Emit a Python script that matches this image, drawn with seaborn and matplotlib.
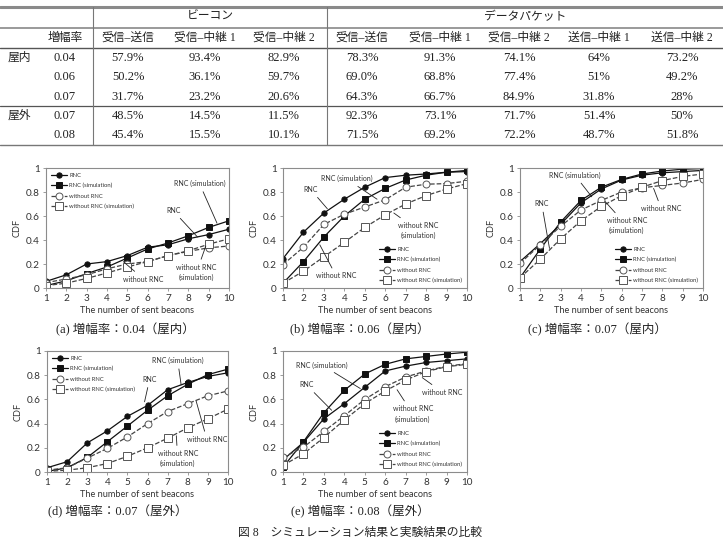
import seaborn as sns
import matplotlib.pyplot as plt
from matplotlib.lines import Line2D

# ---- table data ----
group_headers = ["ビーコン", "データパケット"]
col_headers = ["増幅率", "受信–送信", "受信–中継 1", "受信–中継 2",
               "受信–送信", "受信–中継 1", "受信–中継 2", "送信–中継 1", "送信–中継 2"]
row_places = ["屋内", "", "", "屋外", ""]
row_rates = ["0.04", "0.06", "0.07", "0.07", "0.08"]
beacon_vals = [
    ["57.9%", "93.4%", "82.9%"],
    ["50.2%", "36.1%", "59.7%"],
    ["31.7%", "23.2%", "20.6%"],
    ["48.5%", "14.5%", "11.5%"],
    ["45.4%", "15.5%", "10.1%"],
]
packet_vals = [
    ["78.3%", "91.3%", "74.1%", "64%", "73.2%"],
    ["69.0%", "68.8%", "77.4%", "51%", "49.2%"],
    ["64.3%", "66.7%", "84.9%", "31.8%", "28%"],
    ["92.3%", "73.1%", "71.7%", "51.4%", "50%"],
    ["71.5%", "69.2%", "72.2%", "48.7%", "51.8%"],
]

# ---- CDF data ----
beacons = [1, 2, 3, 4, 5, 6, 7, 8, 9, 10]

rnc_a = [0.055, 0.11, 0.20, 0.22, 0.27, 0.34, 0.36, 0.41, 0.445, 0.49]
rnc_sim_a = [0.02, 0.06, 0.12, 0.175, 0.25, 0.325, 0.375, 0.435, 0.505, 0.56]
wo_a = [0.045, 0.075, 0.11, 0.16, 0.20, 0.22, 0.27, 0.305, 0.335, 0.35]
wo_sim_a = [0.02, 0.04, 0.08, 0.125, 0.175, 0.22, 0.27, 0.31, 0.365, 0.41]

rnc_b = [0.245, 0.465, 0.625, 0.74, 0.84, 0.92, 0.94, 0.95, 0.965, 0.97]
rnc_sim_b = [0.04, 0.22, 0.425, 0.60, 0.74, 0.83, 0.90, 0.94, 0.965, 0.98]
wo_b = [0.195, 0.34, 0.53, 0.615, 0.675, 0.735, 0.84, 0.865, 0.87, 0.89]
wo_sim_b = [0.04, 0.14, 0.26, 0.38, 0.505, 0.61, 0.70, 0.77, 0.825, 0.87]

rnc_c = [0.22, 0.37, 0.53, 0.71, 0.825, 0.90, 0.94, 0.96, 0.97, 0.98]
rnc_sim_c = [0.085, 0.325, 0.55, 0.73, 0.84, 0.905, 0.95, 0.975, 0.99, 0.995]
wo_c = [0.205, 0.36, 0.515, 0.65, 0.73, 0.80, 0.835, 0.855, 0.875, 0.905]
wo_sim_c = [0.085, 0.24, 0.41, 0.56, 0.68, 0.77, 0.84, 0.895, 0.93, 0.95]

rnc_d = [0.035, 0.085, 0.24, 0.34, 0.46, 0.55, 0.68, 0.74, 0.79, 0.82]
rnc_sim_d = [0.005, 0.035, 0.12, 0.25, 0.38, 0.51, 0.63, 0.725, 0.805, 0.85]
wo_d = [0.015, 0.035, 0.115, 0.195, 0.29, 0.40, 0.50, 0.565, 0.63, 0.67]
wo_sim_d = [0.005, 0.015, 0.035, 0.07, 0.13, 0.20, 0.28, 0.365, 0.44, 0.52]

rnc_e = [0.10, 0.245, 0.44, 0.565, 0.70, 0.835, 0.875, 0.905, 0.92, 0.935]
rnc_sim_e = [0.04, 0.25, 0.49, 0.675, 0.81, 0.89, 0.935, 0.955, 0.975, 0.99]
wo_e = [0.12, 0.205, 0.335, 0.465, 0.60, 0.705, 0.785, 0.835, 0.875, 0.895]
wo_sim_e = [0.055, 0.15, 0.285, 0.43, 0.565, 0.67, 0.76, 0.83, 0.87, 0.89]

series_labels = ["RNC", "RNC (simulation)", "without RNC", "without RNC (simulation)"]
captions = ["(a) 増幅率：0.04（屋内）", "(b) 増幅率：0.06（屋内）", "(c) 増幅率：0.07（屋内）",
            "(d) 増幅率：0.07（屋外）", "(e) 増幅率：0.08（屋外）"]
fig_caption = "図 8　シミュレーション結果と実験結果の比較"

sns.set_theme(style="white")
plt.rcParams['font.family'] = ['Liberation Serif', 'Noto Sans CJK JP', 'DejaVu Sans']
JP = ['Liberation Serif', 'Noto Sans CJK JP', 'DejaVu Sans']
CHART = ['Lato', 'DejaVu Sans']

W, H = 723, 542
fig = plt.figure(figsize=(W / 100, H / 100), dpi=100)


def fx(px):
    return px / W


def fy(py):
    return 1 - py / H


def hline(py, x0=0, x1=W, lw=0.8, color='#777777'):
    fig.add_artist(Line2D([fx(x0), fx(x1)], [fy(py), fy(py)], lw=lw, color=color))


def vline(px, y0, y1, lw=0.8, color='#777777'):
    fig.add_artist(Line2D([fx(px), fx(px)], [fy(y0), fy(y1)], lw=lw, color=color))


# ---- table ----
hline(7, lw=2.2, color='#8a8a8a')
hline(28, lw=1.4, color='#9a9a9a')
hline(48, lw=1.0, color='#555555')
hline(106, lw=0.9, color='#555555')
hline(145, lw=1.0, color='#777777')
vline(93, 7, 145)
vline(327, 7, 145)

tfs = 8.5
tcol = '#222222'
fig.text(fx(210), fy(17), group_headers[0], ha='center', va='center', fontsize=tfs, family=JP, color=tcol)
fig.text(fx(525), fy(17), group_headers[1], ha='center', va='center', fontsize=tfs, family=JP, color=tcol)
col_x = [65, 128, 205, 284, 362, 440, 519, 599, 682]
for cx, txt in zip(col_x, col_headers):
    fig.text(fx(cx), fy(38), txt, ha='center', va='center', fontsize=tfs, family=JP, color=tcol)
row_y = [58, 77, 97, 116, 135]
for i, ry in enumerate(row_y):
    if row_places[i]:
        fig.text(fx(8), fy(ry), row_places[i], ha='left', va='center', fontsize=tfs, family=JP, color=tcol)
    cells = [row_rates[i]] + beacon_vals[i] + packet_vals[i]
    for cx, txt in zip(col_x, cells):
        fig.text(fx(cx), fy(ry), txt, ha='center', va='center', fontsize=tfs + 0.5, family=JP, color=tcol)

# ---- charts ----
panels = [
    dict(box=(46, 168, 229, 288), data=(rnc_a, rnc_sim_a, wo_a, wo_sim_a), legend='upper left',
         cap=(125, 330),
         notes=[("RNC (simulation)", (8.55, 0.87), (9.41, 0.54)),
                ("RNC", (7.25, 0.645), (8.45, 0.425)),
                ("without RNC", (5.8, 0.075), (4.8, 0.22)),
                ("without RNC\n(simulation)", (8.4, 0.13), (8.86, 0.35))]),
    dict(box=(283, 168, 467, 288), data=(rnc_b, rnc_sim_b, wo_b, wo_sim_b), legend='lower right',
         cap=(360, 330),
         notes=[("RNC (simulation)", (4.1, 0.91), (5.6, 0.74)),
                ("RNC", (2.36, 0.82), (3.17, 0.66)),
                ("without RNC", (3.6, 0.10), (2.8, 0.36)),
                ("without RNC\n(simulation)", (7.6, 0.48), (6.42, 0.625))]),
    dict(box=(520, 168, 703, 288), data=(rnc_c, rnc_sim_c, wo_c, wo_sim_c), legend='lower right',
         cap=(597, 330),
         notes=[("RNC (simulation)", (3.7, 0.94), (4.53, 0.76)),
                ("RNC", (2.07, 0.70), (2.45, 0.33)),
                ("without RNC\n(simulation)", (6.25, 0.52), (5.19, 0.72)),
                ("without RNC", (7.95, 0.66), (7.57, 0.83))]),
    dict(box=(47, 351, 228, 472), data=(rnc_d, rnc_sim_d, wo_d, wo_sim_d), legend='upper left',
         cap=(118, 512),
         notes=[("RNC (simulation)", (7.5, 0.92), (7.67, 0.72)),
                ("RNC", (6.1, 0.765), (5.85, 0.58)),
                ("without RNC", (8.95, 0.27), (8.41, 0.59)),
                ("without RNC\n(simulation)", (7.5, 0.11), (7.43, 0.30))]),
    dict(box=(283, 351, 467, 472), data=(rnc_e, rnc_sim_e, wo_e, wo_sim_e), legend='lower right',
         cap=(360, 512),
         notes=[("RNC (simulation)", (2.9, 0.885), (4.78, 0.69)),
                ("RNC", (2.15, 0.72), (3.38, 0.51)),
                ("without RNC", (8.8, 0.66), (7.81, 0.78)),
                ("without RNC\n(simulation)", (7.35, 0.48), (6.58, 0.68))]),
]

styles = [
    dict(marker='o', ls='-', color='#111111', markerfacecolor='#111111', markeredgecolor='#111111', markersize=3.8),
    dict(marker='s', ls='-', color='#111111', markerfacecolor='#111111', markeredgecolor='#111111', markersize=4.4),
    dict(marker='o', ls='--', color='#444444', markerfacecolor='white', markeredgecolor='#555555', markersize=5.0),
    dict(marker='s', ls='--', color='#444444', markerfacecolor='white', markeredgecolor='#555555', markersize=5.2),
]

for p in panels:
    x0, y0, x1, y1 = p['box']
    ax = fig.add_axes([fx(x0), fy(y1), fx(x1 - x0), (y1 - y0) / H])
    for vals, lab, st in zip(p['data'], series_labels, styles):
        sns.lineplot(x=beacons, y=vals, ax=ax, label=lab, lw=0.9, markeredgewidth=0.7,
                     dashes=False, **st)
    ax.set_xlim(1, 10)
    ax.set_ylim(0, 1)
    ax.set_xticks(beacons)
    ax.set_yticks([0, 0.2, 0.4, 0.6, 0.8, 1])
    ax.set_yticklabels(["0", "0.2", "0.4", "0.6", "0.8", "1"])
    for s in ax.spines.values():
        s.set_color('#8c8c8c')
        s.set_linewidth(0.8)
    ax.tick_params(axis='both', labelsize=7.2, colors='#8c8c8c', labelcolor='#333333',
                   length=2.5, width=0.6, pad=2, direction='out', bottom=True, left=True)
    for t in ax.get_xticklabels() + ax.get_yticklabels():
        t.set_family(CHART)
    ax.set_xlabel("The number of sent beacons", fontsize=6.6, family=CHART, color='#333333', labelpad=2)
    ax.set_ylabel("CDF", fontsize=6.6, family=CHART, color='#333333', labelpad=3)
    leg = ax.legend(loc=p['legend'], frameon=False, prop={'family': CHART, 'size': 4.2},
                    handlelength=2.8, labelspacing=0.9, handletextpad=0.4, borderaxespad=0.4)
    for t in leg.get_texts():
        t.set_color('#333333')
    for txt, tpos, end in p['notes']:
        ax.annotate(txt, xy=end, xytext=tpos, ha='center', va='center', fontsize=5.0,
                    family=CHART, color='#333333', linespacing=1.5,
                    arrowprops=dict(arrowstyle='-', lw=0.6, color='#222222', shrinkA=1, shrinkB=0))
    cx, cy = p['cap']
    fig.text(fx(cx), fy(cy), captions[panels.index(p)], ha='center', va='center', fontsize=9,
             family=JP, color='#222222')

fig.text(fx(360), fy(533), fig_caption, ha='center', va='center', fontsize=8.5, family=JP, color='#222222')

fig.savefig("out.png", dpi=100)
